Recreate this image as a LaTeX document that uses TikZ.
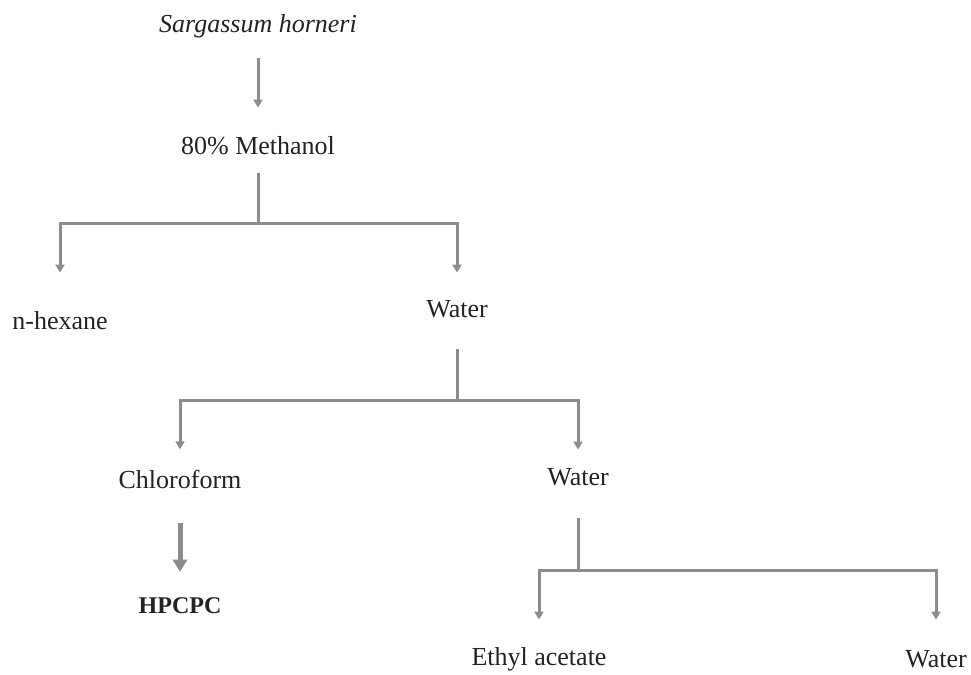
\documentclass[tikz,border=0pt]{standalone}
\usepackage{fontspec}
\setmainfont{Liberation Serif}
\usetikzlibrary{arrows.meta}

\definecolor{linegray}{RGB}{140,140,140}
\definecolor{textgray}{RGB}{35,35,35}

\begin{document}
\begin{tikzpicture}[
    x=0.5pt,
    y=-0.5pt,
    stepnode/.style={
        anchor=base,
        inner sep=0pt,
        font=\fontsize{13}{15}\selectfont,
        text=textgray
    },
    branch/.style={
        draw=linegray,
        line width=1.5pt
    },
    flow/.style={
        branch,
        -{Triangle[width=4.5pt,length=4pt]}
    },
    boldflow/.style={
        draw=linegray,
        line width=2.5pt,
        -{Triangle[width=7pt,length=6pt]}
    }
]

% Page frame
\useasboundingbox (0,0) rectangle (971,675);

% ============ EXTRACTION ============
\node[stepnode, font=\fontsize{13}{15}\selectfont\itshape] (sarg) at (258, 32) {Sargassum horneri};
\node[stepnode] (meth) at (258, 154) {80\% Methanol};

\draw[flow, shorten <=10pt, shorten >=14pt] (sarg) -- (meth);

% ============ FIRST PARTITION ============
\node[stepnode] (hex) at (60, 329) {n-hexane};
\node[stepnode] (wat1) at (457, 317) {Water};

\coordinate (split1) at (258, 223);
\draw[branch, shorten <=9pt] (meth) -- (split1);
\draw[flow, shorten >=19pt] (split1) -| (hex);
\draw[flow, shorten >=13.5pt] (split1) -| (wat1);

% ============ SECOND PARTITION ============
\node[stepnode] (chl) at (180, 488) {Chloroform};
\node[stepnode] (wat2) at (578, 485) {Water};
\node[stepnode, font=\fontsize{12}{14}\selectfont\bfseries] (hpc) at (180, 613) {HPCPC};

\coordinate (split2) at (457, 400);
\draw[branch, shorten <=15.5pt] (wat1) -- (split2);
\draw[flow, shorten >=10pt] (split2) -| (chl);
\draw[flow, shorten >=9pt] (split2) -| (wat2);

% Chloroform fraction
\draw[boldflow, shorten <=17pt, shorten >=12.5pt] (chl) -- (hpc);

% ============ THIRD PARTITION ============
\node[stepnode] (eth) at (539, 665) {Ethyl acetate};
\node[stepnode] (wat3) at (936, 667) {Water};

\coordinate (split3) at (578, 570);
\draw[branch, shorten <=16pt] (wat2) -- (split3);
\draw[flow, shorten >=13.5pt] (split3) -| (eth);
\draw[flow, shorten >=15pt] (split3) -| (wat3);

\end{tikzpicture}
\end{document}
